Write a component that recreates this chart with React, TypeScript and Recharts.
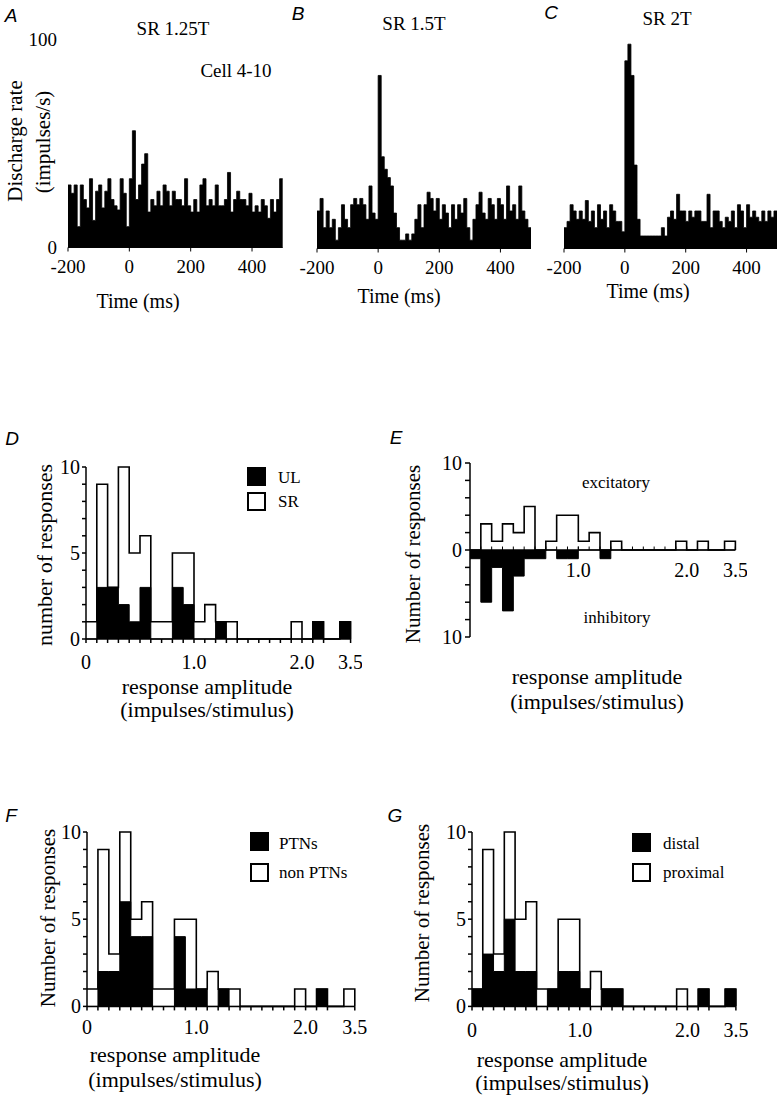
import type { ReactNode } from "react";
import { AreaChart, Area, XAxis, YAxis, ReferenceLine } from "recharts";

const SERIF = '"Liberation Serif", "Times New Roman", serif';
const SANS = '"Liberation Sans", Arial, sans-serif';

// ---- PSTHs (A-C): 10 ms bins from -200 ms, discharge rate in impulses/s ----
const BIN_MS = 10;
const T_FIRST = -200;
const T_LAST = 500;
const TIME_TICKS = [-200, 0, 200, 400];
const RATE_TICKS = [0, 100];

const RATE_SR125 = [
  30, 26, 30, 10, 30, 23, 19, 33, 13, 27,
  30, 19, 27, 33, 23, 20, 18, 33, 26, 10,
  33, 56, 23, 30, 40, 45, 17, 23, 20, 27,
  20, 30, 27, 20, 27, 23, 23, 20, 33, 20,
  17, 23, 17, 30, 33, 20, 23, 20, 30, 20,
  20, 23, 36, 17, 23, 27, 23, 23, 20, 26,
  17, 20, 17, 23, 20, 14, 23, 17, 23, 33,
];
const RATE_SR15 = [
  18, 24, 10, 18, 10, 14, 4, 10, 21, 14,
  10, 21, 24, 21, 24, 21, 14, 30, 17, 14,
  83, 44, 38, 34, 30, 17, 10, 4, 4, 7,
  4, 7, 14, 21, 10, 21, 27, 24, 18, 24,
  14, 21, 17, 10, 21, 14, 21, 17, 24, 10,
  4, 14, 21, 27, 17, 14, 24, 21, 14, 24,
  21, 14, 30, 18, 21, 14, 30, 18, 14, 10,
];
const RATE_SR2 = [
  10, 13, 21, 18, 14, 18, 14, 23, 13, 18,
  10, 21, 14, 18, 10, 21, 18, 13, 13, 8,
  90, 98, 83, 40, 14, 6, 6, 6, 6, 6,
  6, 6, 10, 6, 15, 18, 14, 26, 18, 18,
  13, 18, 15, 18, 18, 13, 13, 26, 10, 18,
  18, 13, 10, 15, 13, 18, 10, 21, 18, 10,
  21, 15, 18, 15, 13, 18, 13, 18, 15, 18,
];

// ---- amplitude histograms (D-G): 0.1 impulses/stimulus bins ----
// the axis is broken after 2.2; the last bin (3.4-3.5) is drawn right after it
const AMP_BINS = [
  0.0, 0.1, 0.2, 0.3, 0.4, 0.5, 0.6, 0.7, 0.8, 0.9,
  1.0, 1.1, 1.2, 1.3, 1.4, 1.5, 1.6, 1.7, 1.8, 1.9,
  2.0, 2.1, 2.2, 3.4, 3.5,
];
const AMP_LABELS: [number, string][] = [
  [0, "0"],
  [1.0, "1.0"],
  [2.0, "2.0"],
  [3.5, "3.5"],
];
const ALL_RESP = [1, 9, 3, 10, 5, 6, 1, 1, 5, 5, 1, 2, 1, 1, 0, 0, 0, 0, 0, 1, 0, 1, 0, 1, 0];
const UL_RESP = [0, 3, 3, 2, 1, 3, 0, 0, 3, 2, 0, 0, 1, 0, 0, 0, 0, 0, 0, 0, 0, 1, 0, 1, 0];
const PTN_RESP = [0, 2, 2, 6, 4, 4, 0, 0, 4, 1, 1, 0, 1, 0, 0, 0, 0, 0, 0, 0, 0, 1, 0, 0, 0];
const DISTAL_RESP = [1, 3, 2, 5, 2, 2, 0, 1, 2, 2, 1, 0, 1, 1, 0, 0, 0, 0, 0, 0, 0, 1, 0, 1, 0];
const EXC_RESP = [0, 3, 1, 3, 2, 5, 0, 1, 4, 4, 1, 2, 0, 1, 0, 0, 0, 0, 0, 1, 0, 1, 0, 1, 0];
const INH_RESP = [1, 6, 2, 7, 3, 1, 1, 0, 1, 1, 0, 0, 1, 0, 0, 0, 0, 0, 0, 0, 0, 0, 0, 0, 0];

const COUNT_TICKS = [0, 1, 2, 3, 4, 5, 6, 7, 8, 9, 10];
const SIGNED_TICKS = [-10, -8, -6, -4, -2, 0, 2, 4, 6, 8, 10];

const AMP_BREAK = 1.05;
const ampPos = (a: number) => (a > 3 ? a - AMP_BREAK : a);
const AMP_MAX = ampPos(3.5);
const AMP_TICKS = [...Array.from({ length: 23 }, (_, i) => i / 10), AMP_MAX];
const ampLabel = (v: number) => {
  const hit = AMP_LABELS.find(([a]) => Math.abs(ampPos(a) - v) < 1e-6);
  return hit ? hit[1] : "";
};

type Rect = { left: number; top: number; width: number; height: number };

function Txt({
  x,
  y,
  size = 20,
  rotate = false,
  italic = false,
  sans = false,
  left = false,
  children,
}: {
  x: number;
  y: number;
  size?: number;
  rotate?: boolean;
  italic?: boolean;
  sans?: boolean;
  left?: boolean;
  children: ReactNode;
}) {
  return (
    <div
      style={{
        position: "absolute",
        left: x,
        top: y,
        transform: `translate(${left ? "0" : "-50%"}, -50%)${rotate ? " rotate(-90deg)" : ""}`,
        fontFamily: sans ? SANS : SERIF,
        fontStyle: italic ? "italic" : "normal",
        fontSize: size,
        lineHeight: 1,
        whiteSpace: "nowrap",
        color: "#000",
      }}
    >
      {children}
    </div>
  );
}

function Swatch({ x, y, filled }: { x: number; y: number; filled: boolean }) {
  return (
    <div
      style={{
        position: "absolute",
        left: x,
        top: y,
        width: 19,
        height: 19,
        boxSizing: "border-box",
        border: "2px solid #000",
        background: filled ? "#000" : "#fff",
      }}
    />
  );
}

function Psth({ plot, rates, showY }: { plot: Rect; rates: number[]; showY: boolean }) {
  const yw = showY ? 40 : 0;
  const ml = showY ? 0 : 30;
  const mt = 10;
  const mr = 20;
  const xh = 40;
  const data = [
    ...rates.map((rate, i) => ({ t: T_FIRST + i * BIN_MS, rate })),
    { t: T_LAST, rate: rates[rates.length - 1] },
  ];
  return (
    <div style={{ position: "absolute", left: plot.left - yw - ml, top: plot.top - mt }}>
      <AreaChart
        width={ml + yw + plot.width + mr}
        height={mt + plot.height + xh}
        data={data}
        margin={{ top: mt, right: mr, left: ml, bottom: 0 }}
      >
        <Area
          type="stepAfter"
          dataKey="rate"
          stroke="#000"
          strokeWidth={0.8}
          fill="#000"
          fillOpacity={1}
          baseValue={0}
          dot={false}
          activeDot={false}
          isAnimationActive={false}
        />
        <XAxis
          type="number"
          dataKey="t"
          domain={[T_FIRST, T_LAST]}
          ticks={TIME_TICKS}
          interval={0}
          height={xh}
          stroke="#000"
          tickSize={4}
          tickMargin={8}
          tick={{ fill: "#000", fontSize: 19, fontFamily: SERIF }}
        />
        <YAxis
          type="number"
          domain={[0, 100]}
          ticks={RATE_TICKS}
          interval={0}
          hide={!showY}
          width={yw}
          axisLine={false}
          tickLine={false}
          tickSize={6}
          tickMargin={5}
          tick={{ fill: "#000", fontSize: 19, fontFamily: SERIF }}
        />
      </AreaChart>
    </div>
  );
}

function AmpHist({ plot, sub, xTickMargin }: { plot: Rect; sub: number[]; xTickMargin: number }) {
  const yw = 40;
  const mt = 10;
  const mr = 12;
  const xh = 50;
  const data = AMP_BINS.map((a, i) => ({ x: ampPos(a), total: ALL_RESP[i], sub: sub[i] }));
  return (
    <div style={{ position: "absolute", left: plot.left - yw, top: plot.top - mt }}>
      <AreaChart
        width={yw + plot.width + mr}
        height={mt + plot.height + xh}
        data={data}
        margin={{ top: mt, right: mr, left: 0, bottom: 0 }}
      >
        <Area
          type="stepAfter"
          dataKey="total"
          stroke="#000"
          strokeWidth={1.6}
          fill="#fff"
          fillOpacity={1}
          baseValue={0}
          dot={false}
          activeDot={false}
          isAnimationActive={false}
        />
        <Area
          type="stepAfter"
          dataKey="sub"
          stroke="#000"
          strokeWidth={1}
          fill="#000"
          fillOpacity={1}
          baseValue={0}
          dot={false}
          activeDot={false}
          isAnimationActive={false}
        />
        <XAxis
          type="number"
          dataKey="x"
          domain={[0, AMP_MAX]}
          ticks={AMP_TICKS}
          interval={0}
          tickFormatter={ampLabel}
          height={xh}
          stroke="#000"
          strokeWidth={1.5}
          tickSize={4}
          tickMargin={xTickMargin}
          tick={{ fill: "#000", fontSize: 20, fontFamily: SERIF }}
        />
        <YAxis
          type="number"
          domain={[0, 10]}
          ticks={COUNT_TICKS}
          interval={0}
          tickFormatter={(v: number) => (v % 5 === 0 ? String(v) : "")}
          width={yw}
          stroke="#000"
          strokeWidth={1.5}
          tickSize={4}
          tickMargin={2}
          tick={{ fill: "#000", fontSize: 20, fontFamily: SERIF }}
        />
      </AreaChart>
    </div>
  );
}

function SignedHist({ plot }: { plot: Rect }) {
  const yw = 40;
  const mt = 10;
  const mr = 12;
  const mb = 10;
  const data = AMP_BINS.map((a, i) => ({ x: ampPos(a), exc: EXC_RESP[i], inh: -INH_RESP[i] }));
  return (
    <div style={{ position: "absolute", left: plot.left - yw, top: plot.top - mt }}>
      <AreaChart
        width={yw + plot.width + mr}
        height={mt + plot.height + mb}
        data={data}
        margin={{ top: mt, right: mr, left: 0, bottom: mb }}
      >
        <Area
          type="stepAfter"
          dataKey="exc"
          stroke="#000"
          strokeWidth={1.6}
          fill="#fff"
          fillOpacity={1}
          baseValue={0}
          dot={false}
          activeDot={false}
          isAnimationActive={false}
        />
        <Area
          type="stepAfter"
          dataKey="inh"
          stroke="#000"
          strokeWidth={1}
          fill="#000"
          fillOpacity={1}
          baseValue={0}
          dot={false}
          activeDot={false}
          isAnimationActive={false}
        />
        <XAxis type="number" dataKey="x" domain={[0, AMP_MAX]} hide />
        <YAxis
          type="number"
          domain={[-10, 10]}
          ticks={SIGNED_TICKS}
          interval={0}
          tickFormatter={(v: number) => (v % 10 === 0 ? String(Math.abs(v)) : "")}
          width={yw}
          stroke="#000"
          strokeWidth={1.5}
          tickSize={5}
          tickMargin={3}
          tick={{ fill: "#000", fontSize: 20, fontFamily: SERIF }}
        />
        <ReferenceLine y={0} stroke="#000" strokeWidth={1.5} />
        {AMP_TICKS.slice(1).map((p) => (
          <ReferenceLine
            key={p}
            segment={[
              { x: p, y: 0 },
              { x: p, y: 0.4 },
            ]}
            stroke="#000"
          />
        ))}
        {AMP_LABELS.slice(1).map(([a, s]) => (
          <ReferenceLine
            key={s}
            segment={[
              { x: ampPos(a), y: 0 },
              { x: ampPos(a), y: 0.4 },
            ]}
            stroke="#000"
            label={{ value: s, position: "bottom", offset: 13, fill: "#000", fontSize: 20, fontFamily: SERIF }}
          />
        ))}
      </AreaChart>
    </div>
  );
}

export default function App() {
  return (
    <div
      style={{
        position: "absolute",
        left: 0,
        top: 0,
        width: 782,
        height: 1096,
        background: "#fff",
        overflow: "hidden",
      }}
    >
      {/* A-C: peristimulus histograms */}
      <Psth plot={{ left: 68.3, top: 39, width: 214.7, height: 208.5 }} rates={RATE_SR125} showY />
      <Psth plot={{ left: 316.7, top: 39.5, width: 214, height: 208.5 }} rates={RATE_SR15} showY={false} />
      <Psth plot={{ left: 564.3, top: 39.5, width: 213, height: 208.5 }} rates={RATE_SR2} showY={false} />

      <Txt x={11} y={15} size={19} italic sans>A</Txt>
      <Txt x={298} y={13} size={19} italic sans>B</Txt>
      <Txt x={551} y={12} size={19} italic sans>C</Txt>
      <Txt x={173} y={28} size={19}>SR 1.25T</Txt>
      <Txt x={414} y={23} size={19}>SR 1.5T</Txt>
      <Txt x={667} y={18} size={19}>SR 2T</Txt>
      <Txt x={236} y={70} size={19}>Cell 4-10</Txt>
      <Txt x={15} y={141} size={21} rotate>Discharge rate</Txt>
      <Txt x={43} y={142} size={21} rotate>(impulses/s)</Txt>
      <Txt x={138} y={301} size={20}>Time (ms)</Txt>
      <Txt x={399} y={296} size={20}>Time (ms)</Txt>
      <Txt x={648} y={291} size={20}>Time (ms)</Txt>

      {/* D: UL vs SR */}
      <AmpHist plot={{ left: 85.7, top: 467, width: 264.6, height: 172 }} sub={UL_RESP} xTickMargin={12} />
      <Txt x={12} y={438} size={19} italic sans>D</Txt>
      <Txt x={45} y={555} size={22} rotate>number of responses</Txt>
      <Txt x={207} y={687} size={22}>response amplitude</Txt>
      <Txt x={207} y={710} size={22}>(impulses/stimulus)</Txt>
      <Swatch x={247} y={467} filled />
      <Swatch x={247} y={492} filled={false} />
      <Txt x={278} y={477} size={17} left>UL</Txt>
      <Txt x={278} y={501} size={17} left>SR</Txt>

      {/* E: excitatory vs inhibitory */}
      <SignedHist plot={{ left: 470, top: 462.7, width: 265.4, height: 174 }} />
      <Txt x={396} y={437} size={19} italic sans>E</Txt>
      <Txt x={413} y={554} size={21} rotate>Number of responses</Txt>
      <Txt x={616} y={482} size={17}>excitatory</Txt>
      <Txt x={617} y={617} size={17}>inhibitory</Txt>
      <Txt x={597} y={677} size={22}>response amplitude</Txt>
      <Txt x={597} y={702} size={22}>(impulses/stimulus)</Txt>

      {/* F: PTNs vs non PTNs */}
      <AmpHist plot={{ left: 87.3, top: 832.3, width: 267.8, height: 174.4 }} sub={PTN_RESP} xTickMargin={9} />
      <Txt x={11} y={815} size={19} italic sans>F</Txt>
      <Txt x={48} y={918} size={21} rotate>Number of responses</Txt>
      <Txt x={175} y={1055} size={22}>response amplitude</Txt>
      <Txt x={175} y={1080} size={22}>(impulses/stimulus)</Txt>
      <Swatch x={250} y={832} filled />
      <Swatch x={250} y={863} filled={false} />
      <Txt x={279} y={843} size={17} left>PTNs</Txt>
      <Txt x={279} y={872} size={17} left>non PTNs</Txt>

      {/* G: distal vs proximal */}
      <AmpHist plot={{ left: 472.3, top: 832.3, width: 263.9, height: 174.4 }} sub={DISTAL_RESP} xTickMargin={12} />
      <Txt x={395} y={815} size={19} italic sans>G</Txt>
      <Txt x={422} y={913} size={21} rotate>Number of responses</Txt>
      <Txt x={562} y={1060} size={22}>response amplitude</Txt>
      <Txt x={562} y={1083} size={22}>(impulses/stimulus)</Txt>
      <Swatch x={632} y={833} filled />
      <Swatch x={632} y={863} filled={false} />
      <Txt x={663} y={843} size={17} left>distal</Txt>
      <Txt x={663} y={872} size={17} left>proximal</Txt>
    </div>
  );
}
